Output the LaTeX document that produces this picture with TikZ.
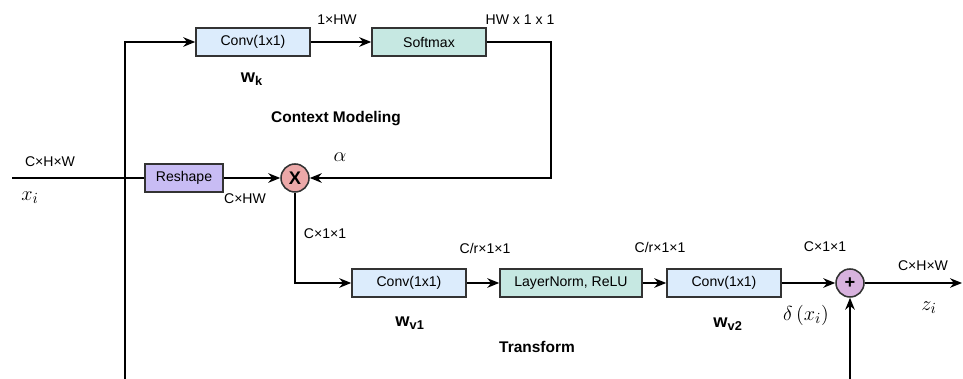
\documentclass[tikz,border=0pt]{standalone}
\usepackage{amsmath}
\usepackage{fontspec}
\setmainfont{Liberation Sans}
\usepackage{tikz}
\usetikzlibrary{arrows.meta}
\definecolor{convblue}{HTML}{DCECFC}
\definecolor{tealbox}{HTML}{C6E8E2}
\definecolor{lavbox}{HTML}{C8BCF4}
\definecolor{mulpink}{HTML}{ECA8A8}
\definecolor{addpurple}{HTML}{D8B2DE}
\definecolor{edgegray}{HTML}{333333}
\tikzset{
    block/.style={rectangle, draw=edgegray, line width=1.1pt, minimum height=0.7cm, inner sep=0mm,
        font=\fontsize{10}{12}\selectfont},
    opnode/.style={circle, draw=edgegray, line width=1.1pt, minimum size=0.7cm, inner sep=0mm,
        font=\bfseries\fontsize{13}{15}\selectfont},
    dimlabel/.style={font=\fontsize{10}{12}\selectfont, inner sep=0mm},
    mathlabel/.style={font=\fontsize{15}{17}\selectfont, inner sep=0mm},
    boldlabel/.style={font=\bfseries\fontsize{11}{13}\selectfont, inner sep=0mm},
    weightlabel/.style={font=\bfseries\fontsize{13}{15}\selectfont, inner sep=0mm}
}
\tikzset{>={Stealth[length=3mm, width=2.4mm]}}

\begin{document}
\begin{tikzpicture}[line width=1pt]
    \useasboundingbox (0cm, 0cm) rectangle (24.075cm, 9.475cm);

    \node (convk) at (6.325cm, 8.425cm) [block, fill=convblue, minimum width=2.85cm] {Conv(1x1)};
    \node (softmax) at (10.725cm, 8.425cm) [block, fill=tealbox, minimum width=2.85cm] {Softmax};
    \node (reshape) at (4.6cm, 5.025cm) [block, fill=lavbox, minimum width=1.95cm] {Reshape};
    \node (mul) at (7.375cm, 5.025cm) [opnode, fill=mulpink] {X};

    \node (convv1) at (10.225cm, 2.4cm) [block, fill=convblue, minimum width=2.85cm] {Conv(1x1)};
    \node (lnrelu) at (14.275cm, 2.4cm) [block, fill=tealbox, minimum width=3.55cm] {LayerNorm, ReLU};
    \node (convv2) at (18.1cm, 2.4cm) [block, fill=convblue, minimum width=2.85cm] {Conv(1x1)};
    \node (add) at (21.25cm, 2.4cm) [opnode, fill=addpurple] {+};

    \coordinate (xin) at (0.3cm, 5.025cm);
    \coordinate (skipbot) at (3.125cm, 0cm);
    \coordinate (attnturn) at (13.775cm, 5.025cm);
    \coordinate (addbot) at (21.25cm, 0cm);
    \coordinate (zout) at (24.05cm, 2.4cm);

    % context modeling
    \draw (xin) -- (reshape);
    \draw[->] (skipbot) |- (convk);
    \draw[->] (convk) -- (softmax);
    \draw[->] (softmax) -| (attnturn) -- (mul);
    \draw[->] (reshape) -- (mul);

    % transform
    \draw[->] (mul) |- (convv1);
    \draw[->] (convv1) -- (lnrelu);
    \draw[->] (lnrelu) -- (convv2);
    \draw[->] (convv2) -- (add);
    \draw[->] (addbot) -- (add);
    \draw[->] (add) -- (zout);

    \node (d1) at (8.425cm, 8.975cm) [dimlabel] {1×HW};
    \node (d2) at (13.0cm, 8.975cm) [dimlabel] {HW x 1 x 1};
    \node (d3) at (1.25cm, 5.425cm) [dimlabel] {C×H×W};
    \node (d4) at (6.125cm, 4.5cm) [dimlabel] {C×HW};
    \node (d5) at (8.125cm, 3.625cm) [dimlabel] {C×1×1};
    \node (d6) at (12.125cm, 3.275cm) [dimlabel] {C/r×1×1};
    \node (d7) at (16.5cm, 3.3cm) [dimlabel] {C/r×1×1};
    \node (d8) at (20.625cm, 3.3cm) [dimlabel] {C×1×1};
    \node (d9) at (23.075cm, 2.825cm) [dimlabel] {C×H×W};

    \node (wk) at (6.3cm, 7.5cm) [weightlabel] {w\textsubscript{k}};
    \node (wv1) at (10.25cm, 1.4cm) [weightlabel] {w\textsubscript{v1}};
    \node (wv2) at (18.2cm, 1.375cm) [weightlabel] {w\textsubscript{v2}};
    \node (ctx) at (8.4cm, 6.5cm) [boldlabel] {Context Modeling};
    \node (trf) at (13.425cm, 0.8cm) [boldlabel] {Transform};

    \node (alpha) at (8.5cm, 5.55cm) [mathlabel] {$\alpha$};
    \node (xi) at (0.75cm, 4.525cm) [mathlabel] {$x_i$};
    \node (zi) at (23.225cm, 1.775cm) [mathlabel] {$z_i$};
    \node (delta) at (20.15cm, 1.6cm) [mathlabel] {$\delta\left(x_i\right)$};
\end{tikzpicture}
\end{document}
